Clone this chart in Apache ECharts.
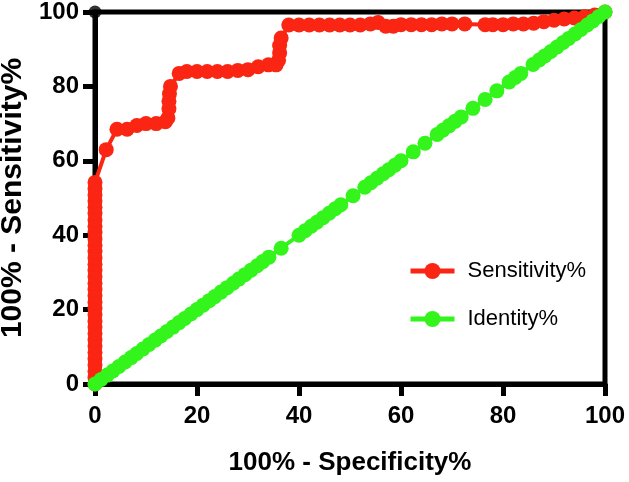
<!DOCTYPE html>
<html>
<head>
<meta charset="utf-8">
<script src="https://cdn.jsdelivr.net/npm/echarts@6/dist/echarts.min.js"></script>
<style>html,body{margin:0;padding:0;background:#fff}#c{width:629px;height:482px}</style>
</head>
<body>
<div id="c"></div>
<script>
// Sensitivity% curve (x = 100% - Specificity%, y = Sensitivity%)
var sensX = [0,0,0,0,0,0,0,0,0,0,0,0,0,0,0,0,0,0,0,0,0,0,0,0,0,0,0,0,0,0,0,0,0,
  2.2,4.3,6.3,8.2,10,12,13.8,14.3,14.5,14.5,14.6,14.8,16.5,18,20,22,24,26,28,30,32,34,35.5,
  36,36.2,36.2,36.5,38,40,42,44,46,48,50,52,54,55.5,57,58.5,60,62,64,66,68,70,72.5,
  76.5,78,80,82,84,86,88,90,92,94,96,98,100];
var sensY = [0,1.7,3.4,5.1,6.8,8.5,10.2,11.9,13.6,15.3,16.9,18.6,20.3,22,23.7,25.4,27.1,28.8,30.5,32.2,33.9,35.6,37.3,39,40.7,42.4,44.1,45.8,47.5,49.2,50.8,52.5,54.2,
  63,68.5,68.5,69.5,70,70,70.5,71.5,74,76,78,80,83.5,84,84,84,84,84,84.3,84.5,85.3,85.8,85.8,
  87,89,91,93,96.5,96.5,96.5,96.5,96.5,96.5,96.5,96.5,96.8,97.2,96.2,96.2,96.6,96.6,96.6,96.6,96.8,96.8,96.8,
  96.6,96.6,96.6,96.8,96.8,97,97.4,97.8,98.1,98.4,98.7,99.2,100];
// Identity% line (y = x)
var identX = [0,1.2,2.4,3.5,4.7,5.9,7.1,8.2,9.4,10.6,11.8,12.9,14.1,15.3,16.5,17.6,18.8,20,21.2,22.4,23.5,24.7,25.9,27.1,28.2,29.4,30.6,31.8,32.9,34.1,36.5,40,41.2,42.4,43.5,44.7,45.9,47.1,48.2,50.6,52.9,54.1,55.3,56.5,57.6,58.8,60,62.4,64.7,67.1,68.2,69.4,70.6,71.8,74.1,76.5,78.8,81.2,82.4,83.5,85.9,87.1,88.2,89.4,90.6,91.8,92.9,94.1,95.3,96.5,97.6,98.8,100];
var identY = identX.slice();
// corner marker at the top of the y axis
var cornerX = [0];
var cornerY = [100];
var xTicks = [0,20,40,60,80,100];
var yTicks = [0,20,40,60,80,100];

function pairs(xs, ys){ return xs.map(function(x,i){ return [x, ys[i]]; }); }

var FONT = "'Liberation Sans', Arial, Helvetica, sans-serif";
var chart = echarts.init(document.getElementById('c'), null, {renderer:'canvas'});
chart.setOption({
  animation: false,
  backgroundColor: '#fff',
  grid: {left: 95, right: 24, top: 12, bottom: 98, containLabel: false, outerBoundsMode: 'none',
    show: true, borderColor: '#000', borderWidth: 5, backgroundColor: 'transparent'},
  legend: {
    orient: 'vertical', left: 403, top: 255, itemWidth: 44, itemHeight: 20, itemGap: 26,
    data: ['Sensitivity%','Identity%'],
    lineStyle: {width: 5},
    textStyle: {fontFamily: FONT, fontSize: 22, color: '#000', padding: [0,0,0,8]}
  },
  xAxis: {
    type: 'value', min: 0, max: 100, interval: 20,
    name: '100% - Specificity%', nameLocation: 'middle', nameGap: 66,
    nameTextStyle: {fontFamily: FONT, fontSize: 26, fontWeight: 'bold', color: '#000'},
    axisLine: {lineStyle: {color: '#000', width: 5}},
    axisTick: {show: true, length: 12, lineStyle: {color: '#000', width: 5}},
    axisLabel: {margin: 20, fontFamily: FONT, fontSize: 24, fontWeight: 'bold', color: '#000',
      formatter: function(v){ return xTicks.indexOf(v) >= 0 ? String(v) : ''; }},
    splitLine: {show: false}
  },
  yAxis: {
    type: 'value', min: 0, max: 100, interval: 20,
    name: '100% - Sensitivity%', nameLocation: 'middle', nameGap: 66,
    nameTextStyle: {fontFamily: FONT, fontSize: 30, fontWeight: 'bold', color: '#000'},
    axisLine: {show: true, lineStyle: {color: '#000', width: 5}},
    axisTick: {show: true, length: 12, lineStyle: {color: '#000', width: 5}},
    axisLabel: {margin: 16, fontFamily: FONT, fontSize: 24, fontWeight: 'bold', color: '#000',
      formatter: function(v){ return yTicks.indexOf(v) >= 0 ? String(v) : ''; }},
    splitLine: {show: false}
  },
  series: [
    {name: 'Sensitivity%', type: 'line', data: pairs(sensX, sensY), symbol: 'circle', symbolSize: 15,
      itemStyle: {color: '#fa2512'}, lineStyle: {color: '#fa2512', width: 4}, z: 3},
    {name: 'Identity%', type: 'line', data: pairs(identX, identY), symbol: 'circle', symbolSize: 15,
      itemStyle: {color: '#33f51c'}, lineStyle: {color: '#33f51c', width: 4}, z: 4},
    {name: 'corner', type: 'scatter', data: pairs(cornerX, cornerY), symbol: 'circle', symbolSize: 13,
      itemStyle: {color: '#000'}, silent: true, z: 5}
  ]
});
</script>
</body>
</html>
